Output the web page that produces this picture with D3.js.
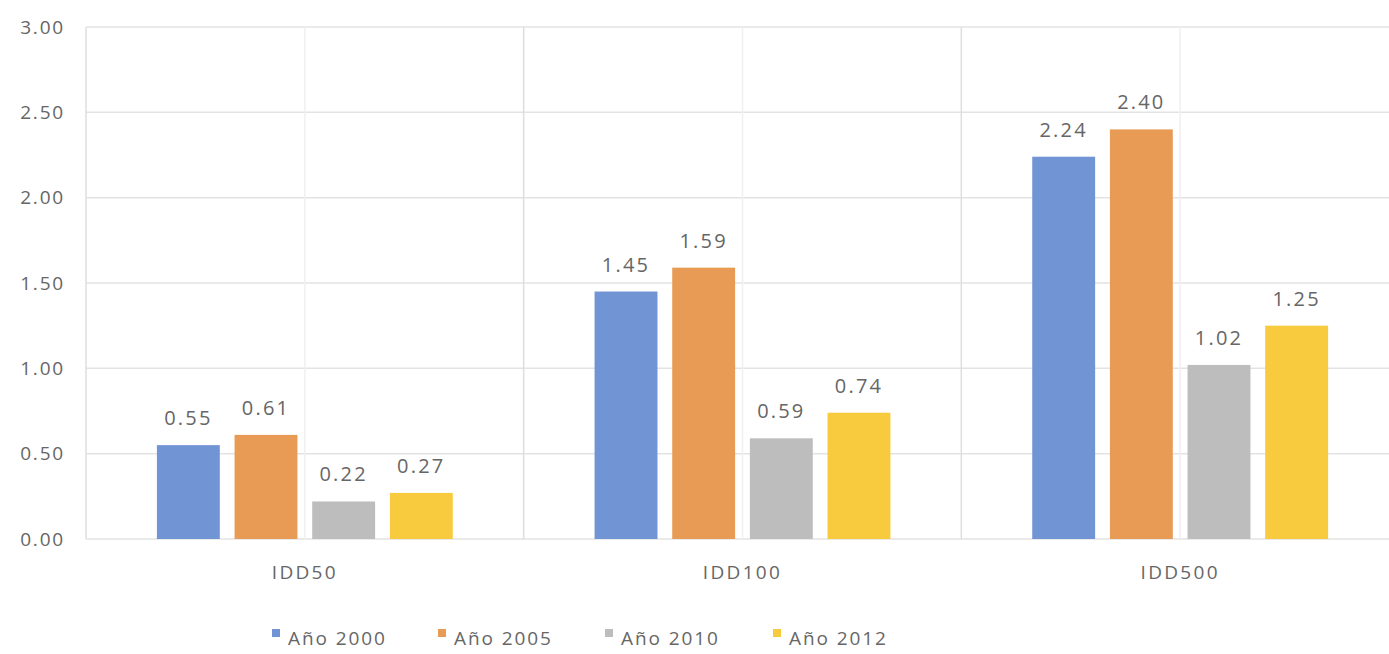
<!DOCTYPE html>
<html>
<head>
<meta charset="utf-8">
<script src="https://cdn.jsdelivr.net/npm/d3@7"></script>
<style>
  html, body { margin: 0; padding: 0; background: #fff; }
  svg { display: block; }
  text { font-family: "Open Sans", sans-serif; fill: #666666; }
</style>
</head>
<body>
<svg id="chart" width="1389" height="654"></svg>
<script>
const categories = ["IDD50", "IDD100", "IDD500"];
const seriesNames = ["Año 2000", "Año 2005", "Año 2010", "Año 2012"];
const values2000 = [0.55, 1.45, 2.24];
const values2005 = [0.61, 1.59, 2.40];
const values2010 = [0.22, 0.59, 1.02];
const values2012 = [0.27, 0.74, 1.25];
const yTicks = [0, 0.5, 1.0, 1.5, 2.0, 2.5, 3.0];
const colors = ["#7094d4", "#e89b54", "#bdbdbd", "#f7cb3d"];

const seriesValues = [values2000, values2005, values2010, values2012];

const svg = d3.select("#chart");
const mLeft = 86, mRight = 1399, mTop = 27, mBottom = 539;

const y = d3.scaleLinear().domain([0, 3]).range([mBottom, mTop]);
const x0 = d3.scaleBand().domain(categories).range([mLeft, mRight])
  .paddingInner(0.324).paddingOuter(0.162);
const x1 = d3.scaleBand().domain(seriesNames).range([0, x0.bandwidth()])
  .paddingInner(0.19).paddingOuter(0);

// horizontal gridlines
svg.append("g").selectAll("line").data(yTicks).join("line")
  .attr("x1", mLeft).attr("x2", mRight)
  .attr("y1", d => y(d)).attr("y2", d => y(d))
  .attr("stroke", "#e3e3e3").attr("stroke-width", 1.5);

// vertical gridlines: category boundaries and centres
const step = x0.step();
const boundaries = d3.range(categories.length + 1).map(i => mLeft + i * step);
svg.append("g").selectAll("line").data(boundaries).join("line")
  .attr("x1", d => d).attr("x2", d => d)
  .attr("y1", mTop).attr("y2", mBottom)
  .attr("stroke", "#dedede").attr("stroke-width", 1.5);
svg.append("g").selectAll("line").data(categories).join("line")
  .attr("x1", d => x0(d) + x0.bandwidth() / 2).attr("x2", d => x0(d) + x0.bandwidth() / 2)
  .attr("y1", mTop).attr("y2", mBottom)
  .attr("stroke", "#f0f0f0").attr("stroke-width", 1.5);

// y axis labels
const yAxis = d3.axisLeft(y).tickValues(yTicks).tickFormat(d3.format(".2f")).tickSize(0).tickPadding(21);
const yg = svg.append("g").attr("transform", `translate(${mLeft},0)`).call(yAxis);
yg.select(".domain").remove();
yg.selectAll("text").style("font-size", "19px").style("font-family", "Open Sans, sans-serif")
  .attr("fill", "#666666").attr("letter-spacing", "1.8px");

// x axis labels
const xAxis = d3.axisBottom(x0).tickSize(0).tickPadding(27);
const xg = svg.append("g").attr("transform", `translate(0,${mBottom})`).call(xAxis);
xg.select(".domain").remove();
xg.selectAll("text").style("font-size", "19px").style("font-family", "Open Sans, sans-serif")
  .attr("fill", "#666666").attr("letter-spacing", "2.3px");

// bars
const data = categories.map((c, ci) => ({
  cat: c,
  items: seriesNames.map((s, si) => ({ series: s, si, value: seriesValues[si][ci] }))
}));

const groups = svg.append("g").selectAll("g").data(data).join("g")
  .attr("transform", d => `translate(${x0(d.cat)},0)`);

groups.selectAll("rect").data(d => d.items).join("rect")
  .attr("x", d => x1(d.series))
  .attr("y", d => y(d.value))
  .attr("width", x1.bandwidth())
  .attr("height", d => y(0) - y(d.value))
  .attr("fill", d => colors[d.si]);

groups.selectAll("text.lbl").data(d => d.items).join("text")
  .attr("class", "lbl")
  .attr("x", d => x1(d.series) + x1.bandwidth() / 2)
  .attr("y", d => y(d.value) - 20)
  .attr("text-anchor", "middle")
  .style("font-size", "20px")
  .attr("letter-spacing", "2.2px")
  .text(d => d.value.toFixed(2));

// legend
const legendX = [272, 438, 605, 773];
const lg = svg.append("g").selectAll("g").data(seriesNames).join("g")
  .attr("transform", (d, i) => `translate(${legendX[i]},0)`);
lg.append("rect").attr("x", 0).attr("y", 629).attr("width", 8).attr("height", 8)
  .attr("fill", (d, i) => colors[i]);
lg.append("text").attr("x", 16).attr("y", 645)
  .style("font-size", "19px").attr("letter-spacing", "1.9px")
  .text(d => d);
</script>
</body>
</html>
